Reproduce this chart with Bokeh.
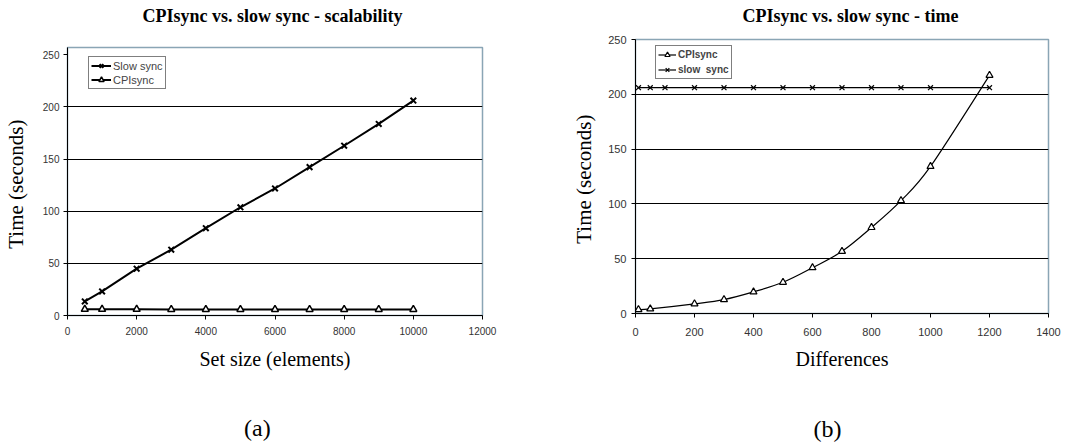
from bokeh.plotting import figure
from bokeh.layouts import row
from bokeh.models import LinearAxis, Legend, LegendItem, FixedTicker, Range1d
from bokeh.embed import file_html
from bokeh.resources import INLINE

# ---------------- data: (a) scalability ----------------
set_size = [500, 1000, 2000, 3000, 4000, 5000, 6000, 7000, 8000, 9000, 10000]
slow_a = [13.5, 23.1, 44.9, 63.1, 83.7, 103.8, 121.8, 142.3, 162.8, 183.7, 206.1]
cpi_a = [6.0, 6.0, 6.0, 5.8, 5.8, 5.8, 5.8, 5.8, 5.8, 5.8, 5.8]
xticks_a = [0, 2000, 4000, 6000, 8000, 10000, 12000]
yticks_a = [0, 50, 100, 150, 200, 250]
grid_a = [50, 100, 150, 200]

# ---------------- data: (b) time ----------------
diff_slow = [10, 50, 100, 200, 300, 400, 500, 600, 700, 800, 900, 1000, 1200]
slow_b = [206, 206, 206, 206, 206, 206, 206, 206, 206, 206, 206, 206, 206]
diff_cpi = [10, 50, 200, 300, 400, 500, 600, 700, 800, 900, 1000, 1200]
cpi_b = [3.6, 4.2, 8.8, 12.7, 19.7, 28.5, 41.8, 56.7, 78.5, 103.0, 134.2, 217.3]
xticks_b = [0, 200, 400, 600, 800, 1000, 1200, 1400]
yticks_b = [0, 50, 100, 150, 200, 250]
grid_b = [50, 100, 150, 200]

SERIF = "Liberation Serif"
SANS = "Liberation Sans"
FRAME = "#8aa5b5"


def style(p, xticks, yticks, grid, tick_size):
    p.frame_align = False
    p.title.visible = False
    p.background_fill_color = "white"
    p.border_fill_color = "white"
    p.outline_line_color = FRAME
    p.outline_line_width = 1.5
    p.xgrid.visible = False
    p.ygrid.ticker = FixedTicker(ticks=grid)
    p.ygrid.grid_line_color = "black"
    p.ygrid.grid_line_width = 1
    p.xaxis.ticker = FixedTicker(ticks=xticks)
    p.yaxis.ticker = FixedTicker(ticks=yticks)
    for ax in (p.xaxis, p.yaxis):
        ax.axis_line_color = "black"
        ax.axis_line_width = 1
        ax.major_tick_line_color = "black"
        ax.major_tick_out = 4
        ax.major_tick_in = 0
        ax.minor_tick_out = 0
        ax.minor_tick_in = 0
        ax.major_label_text_font = SANS
        ax.major_label_text_font_size = tick_size
        ax.major_label_text_color = "#333333"
        ax.axis_label_text_font = SERIF
        ax.axis_label_text_font_style = "normal"
        ax.axis_label_text_color = "black"
    p.yaxis.axis_label_text_font_size = "21px"
    p.xaxis.axis_label_text_font_size = "20px"


def text_axis(p, side, pos, text, size, weight, standoff):
    """An axis with a single labelled tick, used only to place a text line."""
    ax = LinearAxis(ticker=FixedTicker(ticks=[pos]), major_label_overrides={pos: text},
                    axis_line_color=None, major_tick_line_color=None,
                    major_tick_out=0, major_tick_in=0, minor_tick_out=0, minor_tick_in=0,
                    major_label_standoff=standoff, major_label_text_font=SERIF,
                    major_label_text_font_size=size, major_label_text_font_style=weight,
                    major_label_text_color="black")
    p.add_layout(ax, side)


# ================= (a) =================
pa = figure(width=545, height=445, x_range=Range1d(0, 12000), y_range=Range1d(0, 257),
            output_backend="svg", toolbar_location=None,
            min_border_left=67, min_border_right=63, min_border_top=47, min_border_bottom=130)
style(pa, xticks_a, yticks_a, grid_a, "10px")
pa.xaxis.axis_label = "Set size (elements)"
pa.yaxis.axis_label = "Time  (seconds)"
pa.xaxis.major_label_standoff = 7
pa.yaxis.major_label_standoff = 4
pa.xaxis.axis_label_standoff = 10
pa.yaxis.axis_label_standoff = 12

la1 = pa.line(set_size, slow_a, line_color="black", line_width=2)
sa1 = pa.scatter(set_size, slow_a, marker="x", size=8, line_color="black", line_width=2)
la2 = pa.line(set_size, cpi_a, line_color="black", line_width=2)
sa2 = pa.scatter(set_size, cpi_a, marker="triangle", size=7, line_color="black",
                 fill_color="white", line_width=1.5)

leg_a = Legend(items=[LegendItem(label="Slow sync", renderers=[la1, sa1]),
                      LegendItem(label="CPIsync", renderers=[la2, sa2])],
               location=(21, 226), border_line_color="black", border_line_width=1,
               label_text_font=SANS, label_text_font_size="11px",
               glyph_width=20, glyph_height=13, label_height=13, label_standoff=2,
               spacing=1, padding=2, margin=0, background_fill_alpha=1.0)
pa.add_layout(leg_a)
# frame is 415 px wide for 12000 units
text_axis(pa, "above", 5930, "CPIsync vs. slow sync - scalability", "18px", "bold", 22)
text_axis(pa, "below", 5490, "(a)", "24px", "normal", 42)

# ================= (b) =================
pb = figure(width=545, height=445, x_range=Range1d(0, 1400), y_range=Range1d(0, 250),
            output_backend="svg", toolbar_location=None,
            min_border_left=90, min_border_right=42, min_border_top=39, min_border_bottom=132)
style(pb, xticks_b, yticks_b, grid_b, "11px")
pb.xaxis.axis_label = "Differences"
pb.yaxis.axis_label = "Time  (seconds)"
pb.xaxis.major_label_standoff = 10
pb.yaxis.major_label_standoff = 5
pb.xaxis.axis_label_standoff = 9
pb.yaxis.axis_label_standoff = 9

# smooth (Catmull-Rom) curve through the CPIsync points
n = len(diff_cpi)
x0, y0, x1, y1, cx0, cy0, cx1, cy1 = [], [], [], [], [], [], [], []
for i in range(n - 1):
    pxm = diff_cpi[i - 1] if i > 0 else diff_cpi[i]
    pym = cpi_b[i - 1] if i > 0 else cpi_b[i]
    pxp = diff_cpi[i + 2] if i + 2 < n else diff_cpi[i + 1]
    pyp = cpi_b[i + 2] if i + 2 < n else cpi_b[i + 1]
    x0.append(diff_cpi[i]); y0.append(cpi_b[i])
    x1.append(diff_cpi[i + 1]); y1.append(cpi_b[i + 1])
    cx0.append(diff_cpi[i] + (diff_cpi[i + 1] - pxm) / 6.0)
    cy0.append(cpi_b[i] + (cpi_b[i + 1] - pym) / 6.0)
    cx1.append(diff_cpi[i + 1] - (pxp - diff_cpi[i]) / 6.0)
    cy1.append(cpi_b[i + 1] - (pyp - cpi_b[i]) / 6.0)
lb_curve = pb.bezier(x0=x0, y0=y0, x1=x1, y1=y1, cx0=cx0, cy0=cy0, cx1=cx1, cy1=cy1,
                     line_color="black", line_width=1.2)
sb1 = pb.scatter(diff_cpi, cpi_b, marker="triangle", size=7, line_color="black",
                 fill_color="white", line_width=1.2)
lb2 = pb.line(diff_slow, slow_b, line_color="black", line_width=1.2)
sb2 = pb.scatter(diff_slow, slow_b, marker="x", size=7, line_color="black", line_width=1.2)

leg_b = Legend(items=[LegendItem(label="CPIsync", renderers=[lb_curve, sb1]),
                      LegendItem(label="slow  sync", renderers=[lb2, sb2])],
               location=(20, 234), border_line_color="black", border_line_width=1,
               label_text_font=SANS, label_text_font_size="10px", label_text_font_style="bold",
               glyph_width=18, glyph_height=13, label_height=13, label_standoff=2,
               spacing=2, padding=2, margin=0, background_fill_alpha=1.0)
pb.add_layout(leg_b)
# frame is 413 px wide for 1400 units
text_axis(pb, "above", 729, "CPIsync vs. slow sync - time", "18px", "bold", 14)
text_axis(pb, "below", 651, "(b)", "24px", "normal", 43)

layout = row(pa, pb)
open("out.html", "w").write(file_html(layout, INLINE))
